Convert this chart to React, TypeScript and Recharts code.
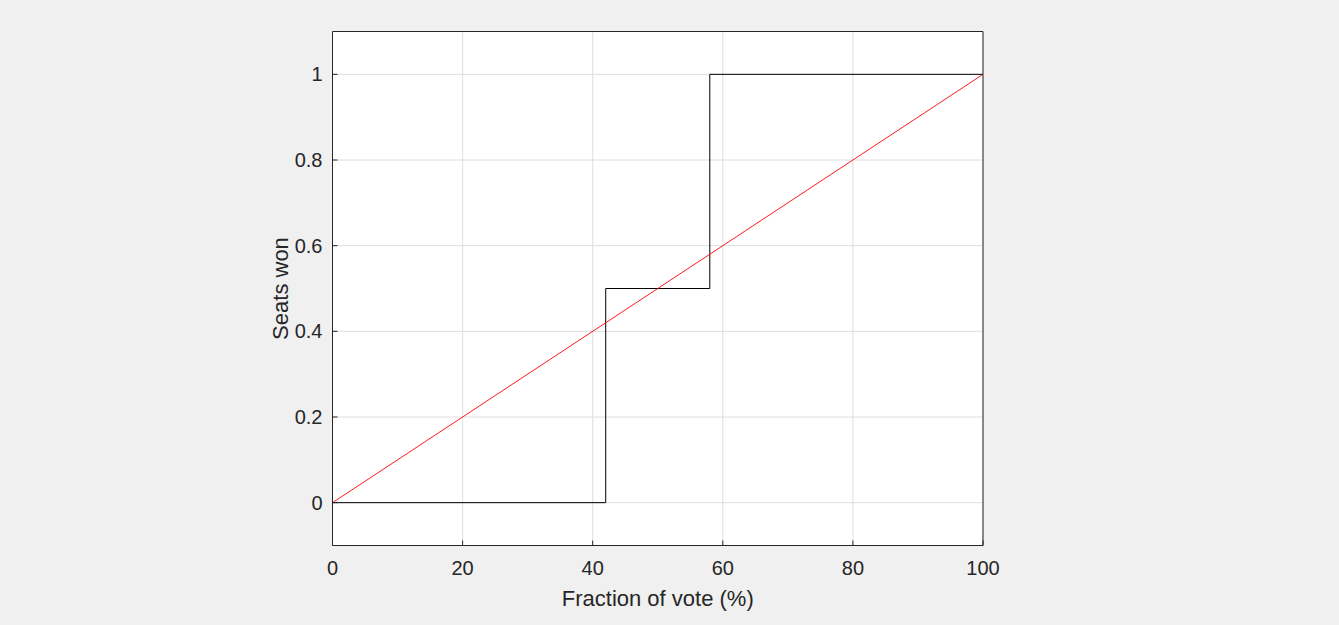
import React from 'react';
import { LineChart, Line, XAxis, YAxis, CartesianGrid, Label } from 'recharts';

const xTicks = [0, 20, 40, 60, 80, 100];
const yTicks = [0, 0.2, 0.4, 0.6, 0.8, 1];
const xDomain = [0, 100];
const yDomain = [-0.1, 1.1];

// Seats won (step function): value changes at these vote fractions
const stepVotes = [0, 42, 58, 100];
const stepSeats = [0, 0.5, 1, 1];

// Proportional reference line
const propVotes = [0, 100];
const propSeats = [0, 1];

const stepData = stepVotes.map((x, i) => ({ x, y: stepSeats[i] }));
const propData = propVotes.map((x, i) => ({ x, y: propSeats[i] }));

const AXIS = '#262626';
const FONT = '"Liberation Sans", Arial, Helvetica, sans-serif';

export default function App() {
  return (
    <div style={{ position: 'absolute', left: 0, top: 0, width: 1339, height: 625, background: '#f0f0f0', fontFamily: FONT }}>
      <LineChart
        width={1339}
        height={625}
        margin={{ left: 272.5, top: 30.5, right: 355, bottom: 19.5 }}
        style={{ fontFamily: FONT }}
      >
        <CartesianGrid stroke="#dedede" strokeWidth={1} fill="#ffffff" verticalPoints={undefined} />
        <XAxis
          xAxisId={0}
          type="number"
          dataKey="x"
          domain={xDomain}
          ticks={xTicks}
          allowDataOverflow
          height={60}
          stroke={AXIS}
          tickSize={-5}
          tickMargin={20}
          tick={{ fill: AXIS, fontSize: 20 }}
        >
          <Label
            content={({ viewBox }: any) => (
              <text x={viewBox.x + viewBox.width / 2} y={606} textAnchor="middle" fill={AXIS} fontSize={22} fontFamily={FONT}>
                Fraction of vote (%)
              </text>
            )}
          />
        </XAxis>
        <XAxis
          xAxisId="top"
          orientation="top"
          type="number"
          dataKey="x"
          domain={xDomain}
          ticks={xTicks}
          allowDataOverflow
          height={1}
          stroke={AXIS}
          tickSize={-5}
          tick={false}
        />
        <YAxis
          yAxisId={0}
          type="number"
          domain={yDomain}
          ticks={yTicks}
          allowDataOverflow
          width={60}
          stroke={AXIS}
          tickSize={-5}
          tickMargin={15}
          tick={{ fill: AXIS, fontSize: 20 }}
        >
          <Label
            content={({ viewBox }: any) => {
              const cx = viewBox.x + viewBox.width - 52;
              const cy = viewBox.y + viewBox.height / 2;
              return (
                <text x={cx} y={cy} dy="0.35em" textAnchor="middle" fill={AXIS} fontSize={22} fontFamily={FONT} transform={`rotate(-90 ${cx} ${cy})`}>
                  Seats won
                </text>
              );
            }}
          />
        </YAxis>
        <YAxis
          yAxisId="right"
          orientation="right"
          type="number"
          domain={yDomain}
          ticks={yTicks}
          allowDataOverflow
          width={1}
          stroke={AXIS}
          tickSize={-5}
          tick={false}
        />
        <Line
          xAxisId={0}
          yAxisId={0}
          data={stepData}
          dataKey="y"
          type="stepAfter"
          stroke="#000000"
          strokeWidth={1}
          dot={false}
          activeDot={false}
          isAnimationActive={false}
        />
        <Line
          xAxisId={0}
          yAxisId={0}
          data={propData}
          dataKey="y"
          type="linear"
          stroke="#ff0000"
          strokeWidth={0.9}
          dot={false}
          activeDot={false}
          isAnimationActive={false}
        />
      </LineChart>
    </div>
  );
}
